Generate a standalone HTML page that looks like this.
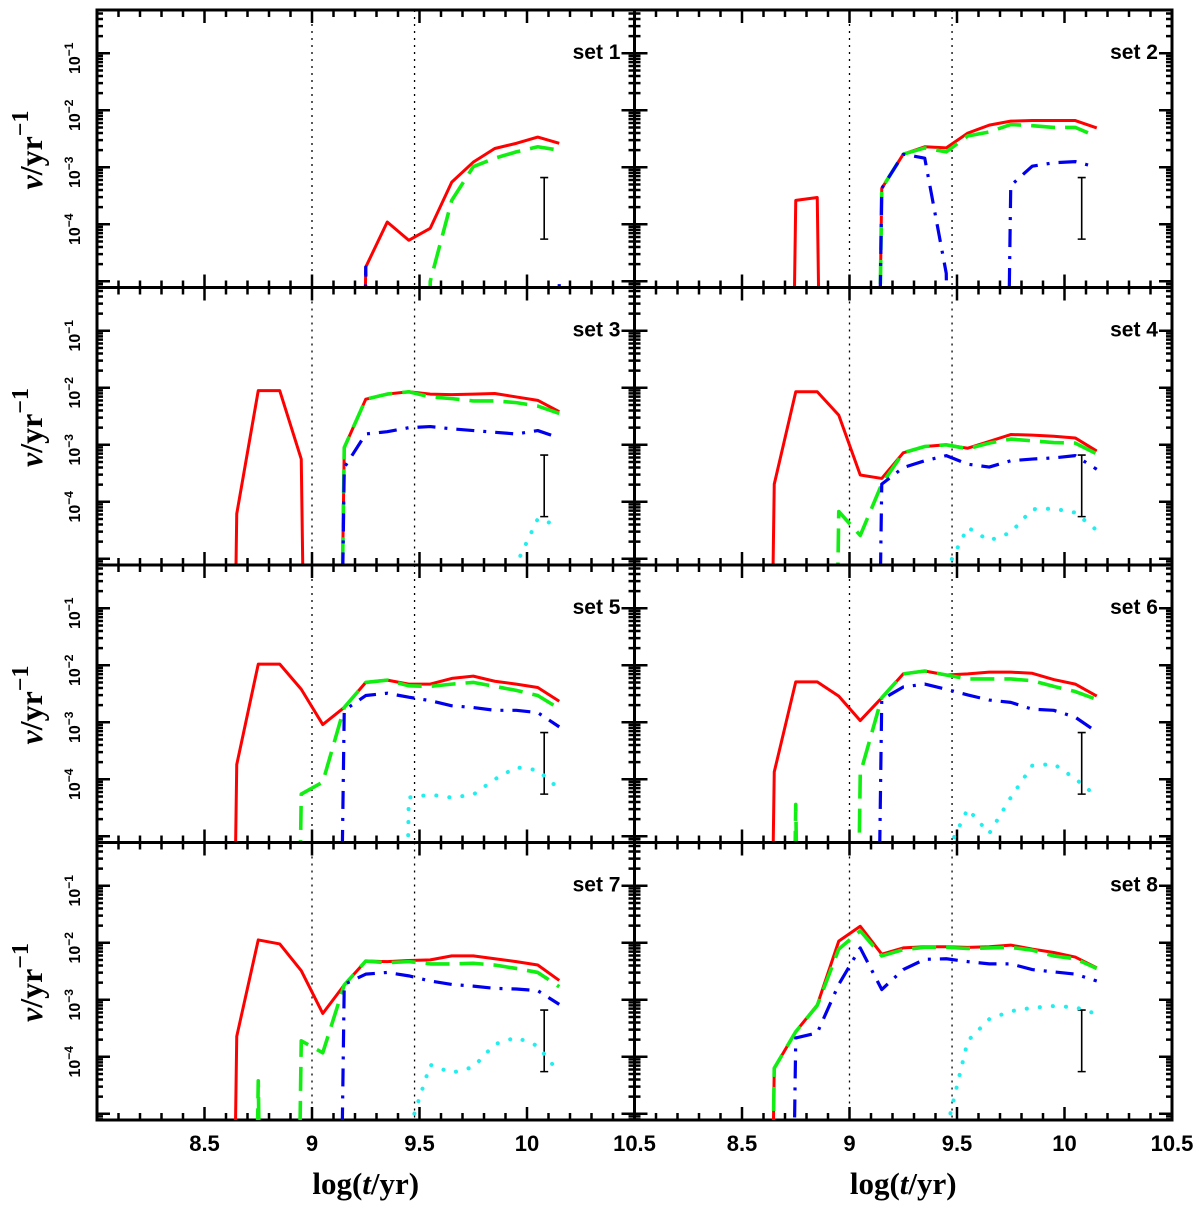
<!DOCTYPE html>
<html><head><meta charset="utf-8"><style>
html,body{margin:0;padding:0;background:#fff;width:1200px;height:1206px;overflow:hidden;}
svg{display:block;}
</style></head><body>
<svg id="chart" width="1200" height="1206" viewBox="0 0 1200 1206" xmlns="http://www.w3.org/2000/svg"></svg>
<script>
// shared time grid, log(t/yr)
const xs = [8.55,8.65,8.75,8.85,8.95,9.05,9.15,9.25,9.35,9.45,9.55,9.65,9.75,9.85,9.95,10.05,10.15];
// log10(nu/yr^-1); -30 = no events (below plot range)
const red1 = [-30,-30,-30,-30,-30,-30,-30,-4.75,-3.96,-4.28,-4.07,-3.26,-2.91,-2.67,-2.58,-2.47,-2.58];
const green1 = [-30,-30,-30,-30,-30,-30,-30,-30,-30,-30,-5.0,-3.58,-2.99,-2.84,-2.73,-2.64,-2.70];
const blue1 = [-30,-30,-30,-30,-30,-30,-30,-4.75,-30,-30,-30,-30,-30,-30,-30,-30,-5.05];
const cyan1 = [-30,-30,-30,-30,-30,-30,-30,-30,-30,-30,-30,-30,-30,-30,-30,-30,-30];
const red2 = [-30,-30,-3.58,-3.53,-30,-30,-3.37,-2.77,-2.64,-2.66,-2.40,-2.26,-2.19,-2.18,-2.18,-2.18,-2.31];
const green2 = [-30,-30,-30,-30,-30,-30,-3.37,-2.77,-2.66,-2.73,-2.45,-2.38,-2.25,-2.27,-2.30,-2.30,-2.46];
const blue2 = [-30,-30,-30,-30,-30,-30,-3.37,-2.77,-2.84,-4.86,-30,-30,-3.32,-2.98,-2.92,-2.90,-3.00];
const cyan2 = [-30,-30,-30,-30,-30,-30,-30,-30,-30,-30,-30,-30,-30,-30,-30,-30,-30];
const red3 = [-30,-4.21,-2.05,-2.05,-3.25,-30,-3.05,-2.20,-2.11,-2.07,-2.11,-2.12,-2.11,-2.10,-2.16,-2.22,-2.42];
const green3 = [-30,-30,-30,-30,-30,-30,-3.05,-2.20,-2.11,-2.07,-2.16,-2.19,-2.23,-2.23,-2.26,-2.32,-2.45];
const blue3 = [-30,-30,-30,-30,-30,-30,-3.40,-2.81,-2.77,-2.70,-2.68,-2.72,-2.75,-2.78,-2.81,-2.75,-2.88];
const cyan3 = [-30,-30,-30,-30,-30,-30,-30,-30,-30,-30,-30,-30,-30,-6.5,-5.1,-4.3,-4.42];
const red4 = [-30,-3.69,-2.07,-2.07,-2.48,-3.53,-3.59,-3.14,-3.03,-3.00,-3.06,-2.94,-2.82,-2.83,-2.85,-2.88,-3.11];
const green4 = [-30,-30,-30,-30,-4.17,-4.59,-3.69,-3.14,-3.03,-3.00,-3.07,-2.97,-2.90,-2.93,-2.96,-2.97,-3.16];
const blue4 = [-30,-30,-30,-30,-30,-30,-3.69,-3.40,-3.28,-3.19,-3.34,-3.39,-3.28,-3.25,-3.23,-3.19,-3.43];
const cyan4 = [-30,-30,-30,-30,-30,-30,-30,-30,-30,-5.2,-4.45,-4.68,-4.54,-4.13,-4.12,-4.19,-4.5];
const red5 = [-30,-3.74,-1.98,-1.98,-2.42,-3.04,-2.74,-2.30,-2.26,-2.33,-2.33,-2.23,-2.19,-2.28,-2.33,-2.39,-2.63];
const green5 = [-30,-30,-30,-30,-4.26,-4.05,-2.74,-2.30,-2.26,-2.36,-2.37,-2.33,-2.30,-2.37,-2.44,-2.53,-2.76];
const blue5 = [-30,-30,-30,-30,-30,-30,-2.79,-2.53,-2.49,-2.56,-2.62,-2.71,-2.74,-2.79,-2.79,-2.83,-3.08];
const cyan5 = [-30,-30,-30,-30,-30,-30,-30,-30,-30,-4.32,-4.27,-4.32,-4.27,-4.0,-3.79,-3.84,-4.17];
const red6 = [-30,-3.87,-2.29,-2.29,-2.54,-2.97,-2.57,-2.15,-2.10,-2.17,-2.15,-2.12,-2.12,-2.14,-2.25,-2.33,-2.54];
const green6 = [-30,-30,-4.44,-30,-30,-3.90,-2.57,-2.15,-2.10,-2.17,-2.24,-2.24,-2.24,-2.27,-2.37,-2.46,-2.60];
const blue6 = [-30,-30,-30,-30,-30,-30,-2.60,-2.38,-2.33,-2.42,-2.52,-2.61,-2.65,-2.77,-2.79,-2.91,-3.17];
const cyan6 = [-30,-30,-30,-30,-30,-30,-30,-30,-30,-5.3,-4.52,-4.95,-4.32,-3.76,-3.73,-3.99,-4.3];
const red7 = [-30,-3.64,-1.95,-2.02,-2.49,-3.24,-2.74,-2.32,-2.33,-2.31,-2.30,-2.23,-2.23,-2.28,-2.33,-2.39,-2.66];
const green7 = [-30,-30,-4.42,-30,-3.72,-3.93,-2.74,-2.32,-2.35,-2.33,-2.37,-2.37,-2.36,-2.39,-2.45,-2.52,-2.77];
const blue7 = [-30,-30,-30,-30,-30,-30,-2.73,-2.55,-2.52,-2.58,-2.67,-2.73,-2.76,-2.80,-2.81,-2.84,-3.08];
const cyan7 = [-30,-30,-30,-30,-30,-30,-30,-30,-30,-5.3,-4.14,-4.28,-4.18,-3.78,-3.66,-3.81,-4.28];
const red8 = [-30,-4.20,-3.56,-3.09,-1.97,-1.71,-2.20,-2.09,-2.07,-2.07,-2.08,-2.07,-2.04,-2.11,-2.17,-2.25,-2.44];
const green8 = [-30,-4.20,-3.56,-3.10,-2.11,-1.79,-2.23,-2.12,-2.08,-2.08,-2.10,-2.09,-2.08,-2.13,-2.23,-2.28,-2.45];
const blue8 = [-30,-30,-3.67,-3.58,-2.73,-2.09,-2.82,-2.47,-2.29,-2.28,-2.33,-2.37,-2.37,-2.47,-2.51,-2.55,-2.67];
const cyan8 = [-30,-30,-30,-30,-30,-30,-30,-30,-30,-5.3,-3.72,-3.34,-3.20,-3.14,-3.11,-3.13,-3.25];
const setLabels = ["set 1","set 2","set 3","set 4","set 5","set 6","set 7","set 8"];
const xTickLabels = ["8.5","9","9.5","10","10.5"];
const xTickValues = [8.5,9,9.5,10,10.5];
const yTickLabels = ["\u22121","\u22122","\u22123","\u22124"];
const yTickValues = [-1,-2,-3,-4];
const refLines = [9.0,9.477];
const errBarX = [10.08];
const errBarLo = [-4.26];
const errBarHi = [-3.18];

const reds=[red1,red2,red3,red4,red5,red6,red7,red8];
const greens=[green1,green2,green3,green4,green5,green6,green7,green8];
const blues=[blue1,blue2,blue3,blue4,blue5,blue6,blue7,blue8];
const cyans=[cyan1,cyan2,cyan3,cyan4,cyan5,cyan6,cyan7,cyan8];

const NS="http://www.w3.org/2000/svg";
const svg=document.getElementById('chart');
function mk(tag,attrs,parent){const e=document.createElementNS(NS,tag);for(const k in attrs)e.setAttribute(k,attrs[k]);(parent||svg).appendChild(e);return e;}

const PW=537.5, PH=277.5, LEFT=97, TOP=10;
const XMIN=8.0, XPX=215, DEC=57;
function panelX0(c){return LEFT+c*PW;}
function panelY0(r){return TOP+r*PH;}
function sx(c,v){return panelX0(c)+(v-XMIN)*XPX;}
function sy(r,v){return panelY0(r)+43.3-(v+1)*DEC;}

const defs=mk('defs',{});
for(let p=0;p<8;p++){
  const c=p%2,r=Math.floor(p/2);
  const cp=mk('clipPath',{id:'clip'+p},defs);
  mk('rect',{x:panelX0(c),y:panelY0(r),width:PW,height:PH},cp);
}

function series(p,arr,name,color,width,dash){
  const c=p%2,r=Math.floor(p/2);
  let d='';
  arr.forEach((v,i)=>{d+=(i?'L':'M')+sx(c,xs[i]).toFixed(2)+','+sy(r,v).toFixed(2);});
  const el=mk('path',{d:d,fill:'none',stroke:color,'stroke-width':width,'stroke-linejoin':'round','clip-path':'url(#clip'+p+')'});
  if(dash)el.setAttribute('stroke-dasharray',dash);
  if(name==='cyan')el.setAttribute('stroke-linecap','round');
  
  
}

for(let p=0;p<8;p++){
  const c=p%2,r=Math.floor(p/2);
  const x0=panelX0(c),y0=panelY0(r);
  const g=mk('g',{});
  
  
  refLines.forEach(v=>{
    const l=mk('line',{x1:sx(c,v),x2:sx(c,v),y1:y0,y2:y0+PH,stroke:'#000','stroke-width':1.3,'stroke-dasharray':'2,5'},g);
    
    
  });
  series(p,reds[p],'red','#f00',3,null);
  series(p,greens[p],'green','#1e1',3.6,'24,10');
  series(p,blues[p],'blue','#00e',3.2,'18,9,3,9');
  series(p,cyans[p],'cyan','#2ee',4,'0.1,13');
  const ex=sx(c,errBarX[0]),ey1=sy(r,errBarHi[0]),ey2=sy(r,errBarLo[0]);
  const eb=mk('path',{d:`M${ex},${ey1}L${ex},${ey2}M${ex-4},${ey1}L${ex+4},${ey1}M${ex-4},${ey2}L${ex+4},${ey2}`,stroke:'#000','stroke-width':1.6,fill:'none'},g);
  
  
  const fr=mk('rect',{x:x0,y:y0,width:PW,height:PH,fill:'none',stroke:'#000','stroke-width':3},g);
  
  
  let td='';
  for(let k=0;k<=25;k++){
    const v=8+k*0.1,x=sx(c,v),L=(k%5===0)?13:7;
    td+=`M${x},${y0}L${x},${y0+L}M${x},${y0+PH}L${x},${y0+PH-L}`;
  }
  for(let e=-6;e<=0;e++){
    for(let m=1;m<=9;m++){
      const v=e+Math.log10(m);
      const y=sy(r,v);
      if(y<y0-0.5||y>y0+PH+0.5)continue;
      const L=(m===1)?13:6;
      td+=`M${x0},${y}L${x0+L},${y}M${x0+PW},${y}L${x0+PW-L},${y}`;
    }
  }
  const tk=mk('path',{d:td,stroke:'#000','stroke-width':2.5,fill:'none'},g);
  
  
  const st=mk('text',{x:x0+PW-14,y:y0+49,'text-anchor':'end','font-family':'Liberation Sans, sans-serif','font-weight':'bold','font-size':21},g);
  st.textContent=setLabels[p];
  
  
  if(c===0){
    yTickValues.forEach((v,i)=>{
      const y=sy(r,v);
      const t=mk('text',{transform:`translate(80,${y+5}) rotate(-90)`,'text-anchor':'middle','font-family':'Liberation Sans, sans-serif','font-weight':'bold','font-size':16},g);
      t.appendChild(document.createTextNode('10'));
      const sp=mk('tspan',{dy:-7,'font-size':12},t);sp.textContent=yTickLabels[i];
      
      
    });
    const yt=mk('text',{transform:`translate(42,${y0+140}) rotate(-90)`,'text-anchor':'middle','font-family':'Liberation Serif, serif','font-weight':'bold','font-size':32},g);
    const nu=mk('tspan',{'font-style':'italic'},yt);nu.textContent='\u03bd';
    yt.appendChild(document.createTextNode('/yr'));
    const ex2=mk('tspan',{dy:-14,'font-size':24},yt);ex2.textContent='\u22121';
    
    
  }
  if(r===3){
    xTickValues.forEach((v,i)=>{
      const t=mk('text',{x:sx(c,v),y:y0+PH+31,'text-anchor':'middle','font-family':'Liberation Sans, sans-serif','font-weight':'bold','font-size':22},g);
      t.textContent=xTickLabels[i];
      
      
    });
    const xt=mk('text',{x:x0+PW/2,y:1194,'text-anchor':'middle','font-family':'Liberation Serif, serif','font-weight':'bold','font-size':31},g);
    xt.appendChild(document.createTextNode('log('));
    const ti=mk('tspan',{'font-style':'italic'},xt);ti.textContent='t';
    xt.appendChild(document.createTextNode('/yr)'));
    
    
  }
}
</script>
</body></html>
